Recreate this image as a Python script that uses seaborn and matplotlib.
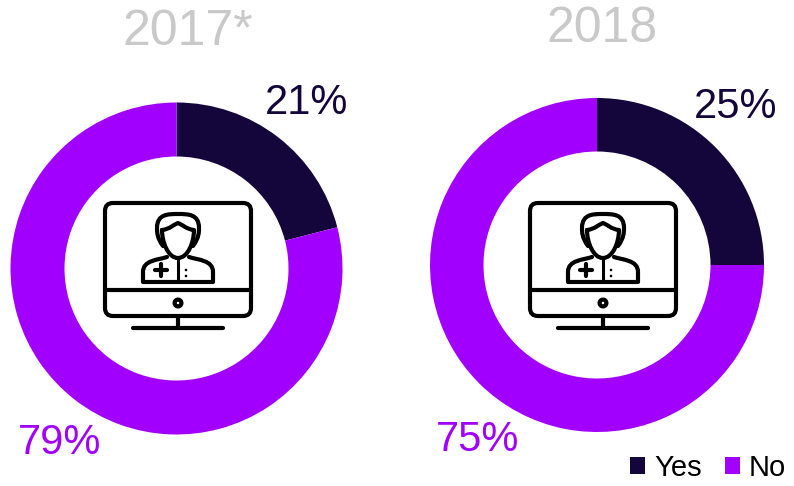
import matplotlib
matplotlib.use("Agg")
import matplotlib.pyplot as plt
from matplotlib.patches import FancyBboxPatch, Circle, PathPatch, Rectangle
from matplotlib.path import Path
import seaborn as sns

years = ["2017*", "2018"]
categories = ["Yes", "No"]
yes_values = [21, 25]
no_values = [79, 75]
colors = ["#14053b", "#a100ff"]
title_color = "#c9c9c9"

sns.set_theme(style="white")
plt.rcParams["font.family"] = ["Liberation Sans", "DejaVu Sans"]

W, H = 794, 486
fig = plt.figure(figsize=(W / 100, H / 100), dpi=100)
pal = sns.color_palette(colors)


def pie_axes(cx, cy, r):
    ax = fig.add_axes([(cx - r) / W, 1 - (cy + r) / H, 2 * r / W, 2 * r / H])
    ax.axis("off")
    return ax


layout = [(176.5, 268.5, 166, 112), (597, 265, 167, 113.5)]
for i, (cx, cy, r, hole) in enumerate(layout):
    ax = pie_axes(cx, cy, r)
    ax.pie([yes_values[i], no_values[i]], colors=pal, startangle=90, counterclock=False,
           radius=1, wedgeprops=dict(width=1 - hole / r, linewidth=0))
    ax.set_xlim(-1, 1)
    ax.set_ylim(-1, 1)

ov = fig.add_axes([0, 0, 1, 1])
ov.set_xlim(0, W)
ov.set_ylim(H, 0)
ov.axis("off")
ov.patch.set_alpha(0)

C3, C4, M, L = Path.CURVE3, Path.CURVE4, Path.MOVETO, Path.LINETO


def icon(cx):
    k = dict(fc="none", ec="black", lw=3.0, joinstyle="round", capstyle="round")

    def seg(pts, codes=None, **kw):
        p = [(cx + x, y) for x, y in pts]
        ov.add_patch(PathPatch(Path(p, codes), **{**k, **kw}))

    # monitor
    ov.add_patch(FancyBboxPatch((cx - 73, 203), 146, 113, boxstyle="round,pad=0,rounding_size=8", **k))
    seg([(-73, 290), (73, 290)])
    ov.add_patch(Circle((cx, 303), 3.4, fc="white", ec="black", lw=3.0))
    seg([(0, 316), (0, 328)])
    seg([(-45, 328), (45, 328)])
    # hair
    seg([(-15, 246), (-21, 238), (-21, 232), (-21, 228), (-21, 214), (-10, 214), (0, 214),
         (10, 214), (21, 214), (21, 228), (21, 232), (21, 238), (15, 246)],
        codes=[M] + [C4] * 12)
    # face
    seg([(-16, 230), (-8, 229), (-5, 225), (0, 223), (5, 225), (8, 229), (16, 230),
         (16, 242), (10, 258), (0, 258), (-10, 258), (-16, 242), (-16, 230)],
        codes=[M] + [C4] * 12)
    # body
    seg([(-11, 257), (-20, 260), (-35, 260), (-35, 272), (-35, 282), (35, 282), (35, 272),
         (35, 260), (20, 260), (11, 257)],
        codes=[M, C4, C4, C4, L, L, L, C4, C4, C4])
    seg([(0, 258), (0, 282)], lw=2.2)
    seg([(-17, 264), (-17, 276)], lw=3)
    seg([(-23, 270), (-11, 270)], lw=3)
    for yy in (270, 276):
        ov.add_patch(Circle((cx + 8, yy), 1.3, fc="black", ec="none"))


icon(178)
icon(603)

ov.text(187.5, 32, years[0], fontsize=36, color=title_color, ha="center", va="center")
ov.text(602.5, 29.5, years[1], fontsize=36, color=title_color, ha="center", va="center")

labels = [(307, 103, yes_values[0], colors[0]), (60, 443, no_values[0], colors[1]),
          (735.5, 107, yes_values[1], colors[0]), (478, 440, no_values[1], colors[1])]
for x, y, v, c in labels:
    ov.text(x, y, f"{v}%", fontsize=30, color=c, ha="center", va="center")

handles = [Rectangle((0, 0), 1, 1, fc=c, ec="none") for c in colors]
fig.legend(handles, categories, loc="lower right", bbox_to_anchor=(1.012, -0.028), ncol=2, frameon=False,
           fontsize=21, handlelength=0.52, handleheight=0.52, handletextpad=0.3, columnspacing=0.8,
           labelcolor="black", borderpad=0.1)

fig.savefig("out.png", dpi=100)
